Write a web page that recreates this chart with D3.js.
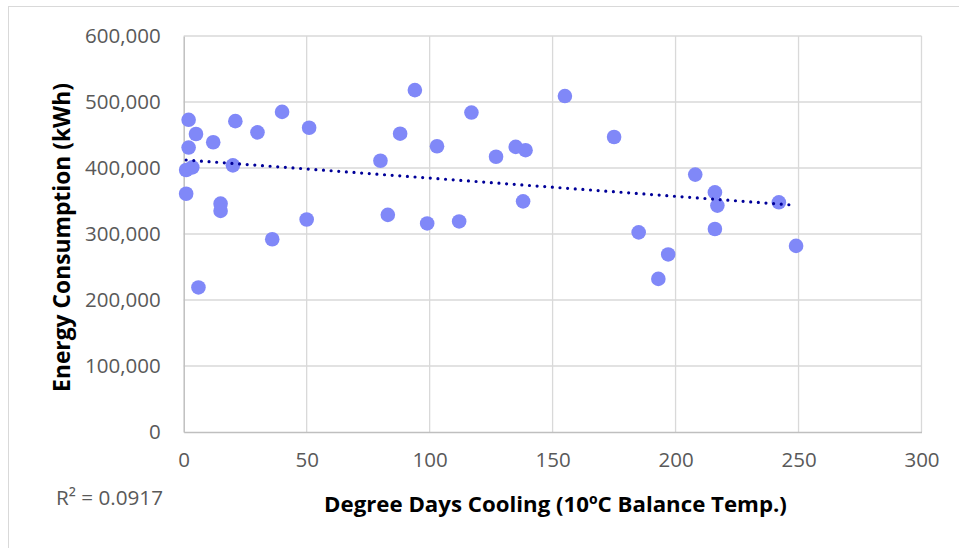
<!DOCTYPE html>
<html>
<head>
<meta charset="utf-8">
<script src="https://cdn.jsdelivr.net/npm/d3@7/dist/d3.min.js"></script>
<style>
  html, body { margin: 0; padding: 0; background: #fff; }
  svg { display: block; }
</style>
</head>
<body>
<svg id="chart" width="959" height="548"></svg>
<script>
// Degree days cooling (x) and energy consumption in kWh (y)
const degreeDays = [1, 3.5, 1, 2, 2, 5, 6, 12, 15, 15, 20, 21, 30, 36, 40, 50, 51,
  80, 83, 88, 94, 99, 103, 112, 117, 127, 135, 138, 139, 155, 175, 185, 193, 197,
  208, 216, 217, 216, 242, 249];
const energyKWh = [397000, 401000, 361000, 473000, 431000, 451500, 219000, 439000, 346000, 335000,
  404000, 471000, 454000, 292000, 485000, 322000, 461000,
  411000, 329000, 452000, 518000, 316000, 433000, 319000, 484000, 417000, 432000, 349500, 427000,
  509000, 447000, 302500, 232000, 269000, 390000, 363000, 343000, 307600, 348000, 282000];
const xTicks = [0, 50, 100, 150, 200, 250, 300];
const yTicks = [0, 100000, 200000, 300000, 400000, 500000, 600000];
const xTitle = "Degree Days Cooling (10ºC Balance Temp.)";
const yTitle = "Energy Consumption (kWh)";
const r2Label = "R² = 0.0917";

const svg = d3.select("#chart");
const W = 959, H = 548;
const plot = { left: 183.7, right: 921.5, top: 36, bottom: 432 };

// chart border
svg.append("rect").attr("x", 8.5).attr("y", 6.5).attr("width", 960).attr("height", 560)
  .attr("fill", "#fff").attr("stroke", "#d9d9d9").attr("stroke-width", 1);

const x = d3.scaleLinear().domain([0, 300]).range([plot.left, plot.right]);
const y = d3.scaleLinear().domain([0, 600000]).range([plot.bottom, plot.top]);

const gridColor = "#d9d9d9";
const grid = svg.append("g");
// horizontal gridlines
grid.selectAll("line.h").data(yTicks.filter(d => d > 0)).enter().append("line")
  .attr("x1", plot.left).attr("x2", plot.right)
  .attr("y1", d => y(d)).attr("y2", d => y(d))
  .attr("stroke", gridColor).attr("stroke-width", 1.3);
// vertical gridlines
grid.selectAll("line.v").data(xTicks.filter(d => d > 0)).enter().append("line")
  .attr("y1", plot.top).attr("y2", plot.bottom)
  .attr("x1", d => x(d)).attr("x2", d => x(d))
  .attr("stroke", gridColor).attr("stroke-width", 1.3);

// axes
const fmt = d3.format(",");
const yAxis = d3.axisLeft(y).tickValues(yTicks).tickFormat(d => fmt(d)).tickSize(0).tickPadding(23);
const xAxis = d3.axisBottom(x).tickValues(xTicks).tickFormat(d => d).tickSize(0).tickPadding(20);

const gy = svg.append("g").attr("transform", `translate(${plot.left},0)`).call(yAxis);
const gx = svg.append("g").attr("transform", `translate(0,${plot.bottom})`).call(xAxis);
[gx, gy].forEach(g => {
  g.select(".domain").attr("stroke", "#bfbfbf").attr("stroke-width", 1.5);
  g.selectAll("text").attr("fill", "#595959")
    .style("font-family", "'Open Sans', sans-serif").style("font-size", "20.5px");
});

// trendline (least squares)
const n = degreeDays.length;
const mx = d3.mean(degreeDays), my = d3.mean(energyKWh);
let sxy = 0, sxx = 0;
for (let i = 0; i < n; i++) {
  sxy += (degreeDays[i] - mx) * (energyKWh[i] - my);
  sxx += (degreeDays[i] - mx) ** 2;
}
const slope = sxy / sxx, intercept = my - slope * mx;
const [xmin, xmax] = d3.extent(degreeDays);

// points
svg.append("g").selectAll("circle").data(degreeDays.map((d, i) => [d, energyKWh[i]]))
  .enter().append("circle")
  .attr("cx", d => x(d[0])).attr("cy", d => y(d[1])).attr("r", 7.3)
  .attr("fill", "#8088f8");

svg.append("line")
  .attr("x1", x(xmin)).attr("y1", y(intercept + slope * xmin))
  .attr("x2", x(xmax)).attr("y2", y(intercept + slope * xmax))
  .attr("stroke", "#000099").attr("stroke-width", 3.2)
  .attr("stroke-linecap", "round").attr("stroke-dasharray", "0,7.65");

// titles
function fitText(sel, target) {
  const len = sel.node().getComputedTextLength();
  const fs = parseFloat(sel.style("font-size"));
  sel.style("font-size", (fs * target / len) + "px");
}
const xt = svg.append("text").attr("x", (324 + 787) / 2).attr("y", 512)
  .attr("text-anchor", "middle").attr("fill", "#000")
  .style("font-family", "'Open Sans', sans-serif").style("font-weight", "bold").style("font-size", "20px")
  .text(xTitle);
fitText(xt, 463);

const yt = svg.append("text")
  .attr("transform", `translate(70,${(83 + 392) / 2}) rotate(-90)`)
  .attr("text-anchor", "middle").attr("fill", "#000")
  .style("font-family", "'Open Sans', sans-serif").style("font-weight", "bold").style("font-size", "20px")
  .text(yTitle);
fitText(yt, 309);

const rt = svg.append("text").attr("x", 56).attr("y", 505).attr("fill", "#595959")
  .style("font-family", "'Open Sans', sans-serif").style("font-size", "20px")
  .text(r2Label);
fitText(rt, 107);
</script>
</body>
</html>
